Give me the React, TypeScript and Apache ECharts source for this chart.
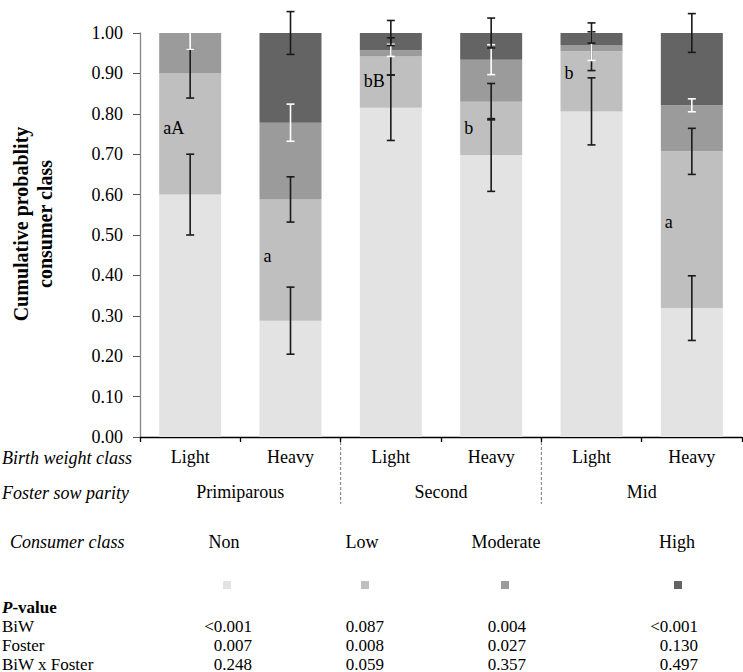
import React, { useEffect, useRef } from 'react';
import * as echarts from 'echarts';

// ---------- data ----------
const birthWeight = ['Light', 'Heavy', 'Light', 'Heavy', 'Light', 'Heavy'];
const fosterParity = ['Primiparous', 'Second', 'Mid'];
const consumerClasses = ['Non', 'Low', 'Moderate', 'High'];

const nonVals = [0.6, 0.288, 0.815, 0.698, 0.806, 0.319];
const lowVals = [0.3, 0.3, 0.127, 0.132, 0.149, 0.388];
const modVals = [0.1, 0.19, 0.015, 0.104, 0.015, 0.114];
const highVals = [0.0, 0.222, 0.043, 0.066, 0.03, 0.179];

// half-width of error bars (drawn at the top of each segment)
const nonErr = [0.1, 0.083, 0.081, 0.09, 0.083, 0.08];
const lowErr = [0.061, 0.056, 0.046, 0.045, 0.048, 0.057];
const modErr = [0.04, 0.046, 0.015, 0.037, 0.038, 0.016];
const highErr = [0, 0.053, 0.031, 0.037, 0.025, 0.048];

const letters = ['aA', 'a', 'bB', 'b', 'b', 'a'];
const letterY = [0.766, 0.449, 0.88, 0.764, 0.9, 0.531];

const pRowNames = ['BiW', 'Foster', 'BiW x Foster'];
const pBiW = ['<0.001', '0.087', '0.004', '<0.001'];
const pFoster = ['0.007', '0.008', '0.027', '0.130'];
const pInter = ['0.248', '0.059', '0.357', '0.497'];

// ---------- styles ----------
const FONT = '"Liberation Serif", "Times New Roman", Times, serif';
const colors = ['#e3e3e3', '#bfbfbf', '#9b9b9b', '#646464'];
const errColors = ['#1a1a1a', '#1a1a1a', '#ffffff', '#1a1a1a'];

export default function App() {
  const ref = useRef<HTMLDivElement>(null);

  useEffect(() => {
    document.body.style.margin = '0';
    const chart = echarts.init(ref.current!, null, { renderer: 'svg' });

    const vals = [nonVals, lowVals, modVals, highVals];
    const errs = [nonErr, lowErr, modErr, highErr];
    const catKeys = birthWeight.map((b, i) => b + '|' + i);

    // cumulative tops
    const cum: number[][] = [];
    vals.forEach((arr, k) => {
      cum.push(arr.map((v, i) => (k === 0 ? 0 : cum[k - 1][i]) + v));
    });

    const barSeries = consumerClasses.map((name, k) => ({
      type: 'bar',
      name,
      stack: 'total',
      barWidth: 62,
      itemStyle: { color: colors[k] },
      data: vals[k],
      z: 2,
    }));

    const errSeries = consumerClasses.map((name, k) => ({
      type: 'custom',
      name: name + ' error',
      clip: false,
      silent: true,
      z: 5,
      encode: { x: 0, y: 1 },
      data: cum[k].map((c, i) => [i, c, errs[k][i], vals[k][i]]),
      renderItem: (params: any, api: any) => {
        const x = api.value(0);
        const c = api.value(1);
        const e = api.value(2);
        const v = api.value(3);
        if (!(e > 0) || !(v > 0)) return null;
        const top = api.coord([x, c + e]);
        const bot = api.coord([x, c - e]);
        const hw = 4;
        const style = { stroke: errColors[k], lineWidth: 1.6, fill: 'none' };
        return {
          type: 'group',
          children: [
            { type: 'line', shape: { x1: top[0], y1: top[1], x2: bot[0], y2: bot[1] }, style },
            { type: 'line', shape: { x1: top[0] - hw, y1: top[1], x2: top[0] + hw, y2: top[1] }, style },
            { type: 'line', shape: { x1: bot[0] - hw, y1: bot[1], x2: bot[0] + hw, y2: bot[1] }, style },
          ],
        };
      },
    }));

    const letterSeries = {
      type: 'custom',
      name: 'letters',
      clip: false,
      silent: true,
      z: 6,
      encode: { x: 0, y: 1 },
      data: letterY.map((y, i) => [i, y]),
      renderItem: (params: any, api: any) => {
        const p = api.coord([api.value(0), api.value(1)]);
        return {
          type: 'text',
          x: p[0] - 27,
          y: p[1],
          style: {
            text: letters[params.dataIndex],
            font: `18px ${FONT}`,
            fill: '#000',
            textAlign: 'left',
            textVerticalAlign: 'middle',
            align: 'left',
            verticalAlign: 'middle',
          },
        };
      },
    };

    const legendX = [227, 365, 505, 678];

    const option: any = {
      animation: false,
      backgroundColor: '#ffffff',
      textStyle: { fontFamily: FONT },
      grid: { left: 140, top: 33, width: 602, height: 404, containLabel: false },
      legend: consumerClasses.map((name, k) => ({
        data: [name],
        left: legendX[k] - 4,
        top: 581,
        itemWidth: 8,
        itemHeight: 8,
        icon: 'rect',
        padding: 0,
        itemGap: 0,
        selectedMode: false,
        formatter: () => '',
        textStyle: { fontSize: 1 },
      })),
      xAxis: [
        {
          type: 'category',
          data: catKeys,
          position: 'bottom',
          axisLine: { show: true, lineStyle: { color: '#000', width: 1.3 } },
          axisTick: { show: true, length: 5, lineStyle: { color: '#000', width: 1.3 } },
          axisLabel: {
            interval: 0,
            formatter: (v: string) => v.split('|')[0],
            fontSize: 18,
            fontFamily: FONT,
            color: '#000',
            margin: 11,
          },
          splitLine: { show: false },
        },
        {
          type: 'category',
          data: fosterParity,
          position: 'bottom',
          offset: 35,
          axisLine: { show: false },
          axisTick: { show: false },
          axisLabel: { interval: 0, fontSize: 18, fontFamily: FONT, color: '#000', margin: 11 },
          splitLine: { show: false },
        },
      ],
      yAxis: {
        type: 'value',
        min: 0,
        max: 1,
        interval: 0.1,
        axisLine: { show: true, lineStyle: { color: '#868686', width: 1.3 } },
        axisTick: { show: true, length: 7, lineStyle: { color: '#555', width: 1 } },
        splitLine: { show: false },
        axisLabel: {
          formatter: (v: number) => v.toFixed(2),
          fontSize: 18,
          fontFamily: FONT,
          color: '#000',
          margin: 17,
        },
      },
      series: [...barSeries, ...errSeries, letterSeries],
    };

    chart.setOption(option);

    // pixel positions of categories (for separators)
    const px = catKeys.map((_, i) => chart.convertToPixel({ xAxisIndex: 0 }, i) as number);
    const sep1 = (px[1] + px[2]) / 2;
    const sep2 = (px[3] + px[4]) / 2;
    const axisY = chart.convertToPixel({ yAxisIndex: 0 }, 0) as number;

    const txt = (x: number, y: number, text: string, font: string, align = 'left') => ({
      type: 'text',
      x,
      y,
      style: { text, font, fill: '#000', textAlign: align, textVerticalAlign: 'middle' },
    });

    const F18 = `18px ${FONT}`;
    const I18 = `italic 18px ${FONT}`;
    const F17 = `17px ${FONT}`;

    const colLabelX = [224, 362, 506, 677];
    const valRight = [252, 384, 526, 698];
    const rowY = [626, 645, 664];
    const pTable = [pBiW, pFoster, pInter];

    const graphics: any[] = [
      {
        type: 'text',
        x: 33,
        y: 224,
        rotation: Math.PI / 2,
        style: {
          text: 'Cumulative probablity\nconsumer class',
          font: `bold 20px ${FONT}`,
          fill: '#000',
          textAlign: 'center',
          textVerticalAlign: 'middle',
          lineHeight: 24,
        },
      },
      {
        type: 'line',
        shape: { x1: sep1, y1: axisY, x2: sep1, y2: axisY + 67 },
        style: { stroke: '#7a7a7a', lineWidth: 1, lineDash: [3, 2] },
      },
      {
        type: 'line',
        shape: { x1: sep2, y1: axisY, x2: sep2, y2: axisY + 67 },
        style: { stroke: '#7a7a7a', lineWidth: 1, lineDash: [3, 2] },
      },
      txt(2, 458, 'Birth weight class', I18),
      txt(2, 493, 'Foster sow parity', I18),
      txt(10, 542, 'Consumer class', I18),
      ...consumerClasses.map((c, k) => txt(colLabelX[k], 542, c, F18, 'center')),
      {
        type: 'text',
        x: 2,
        y: 607,
        style: {
          text: '{p|P}{v|-value}',
          fill: '#000',
          textVerticalAlign: 'middle',
          rich: {
            p: { fontStyle: 'italic', fontWeight: 'bold', fontSize: 17, fontFamily: FONT, fill: '#000' },
            v: { fontWeight: 'bold', fontSize: 17, fontFamily: FONT, fill: '#000' },
          },
        },
      },
      ...pRowNames.map((r, j) => txt(2, rowY[j], r, F17)),
    ];
    pTable.forEach((row, j) => {
      row.forEach((v, k) => graphics.push(txt(valRight[k], rowY[j], v, F17, 'right')));
    });

    chart.setOption({ graphic: graphics });

    return () => chart.dispose();
  }, []);

  return <div ref={ref} style={{ position: 'absolute', left: 0, top: 0, width: 743, height: 672 }} />;
}
